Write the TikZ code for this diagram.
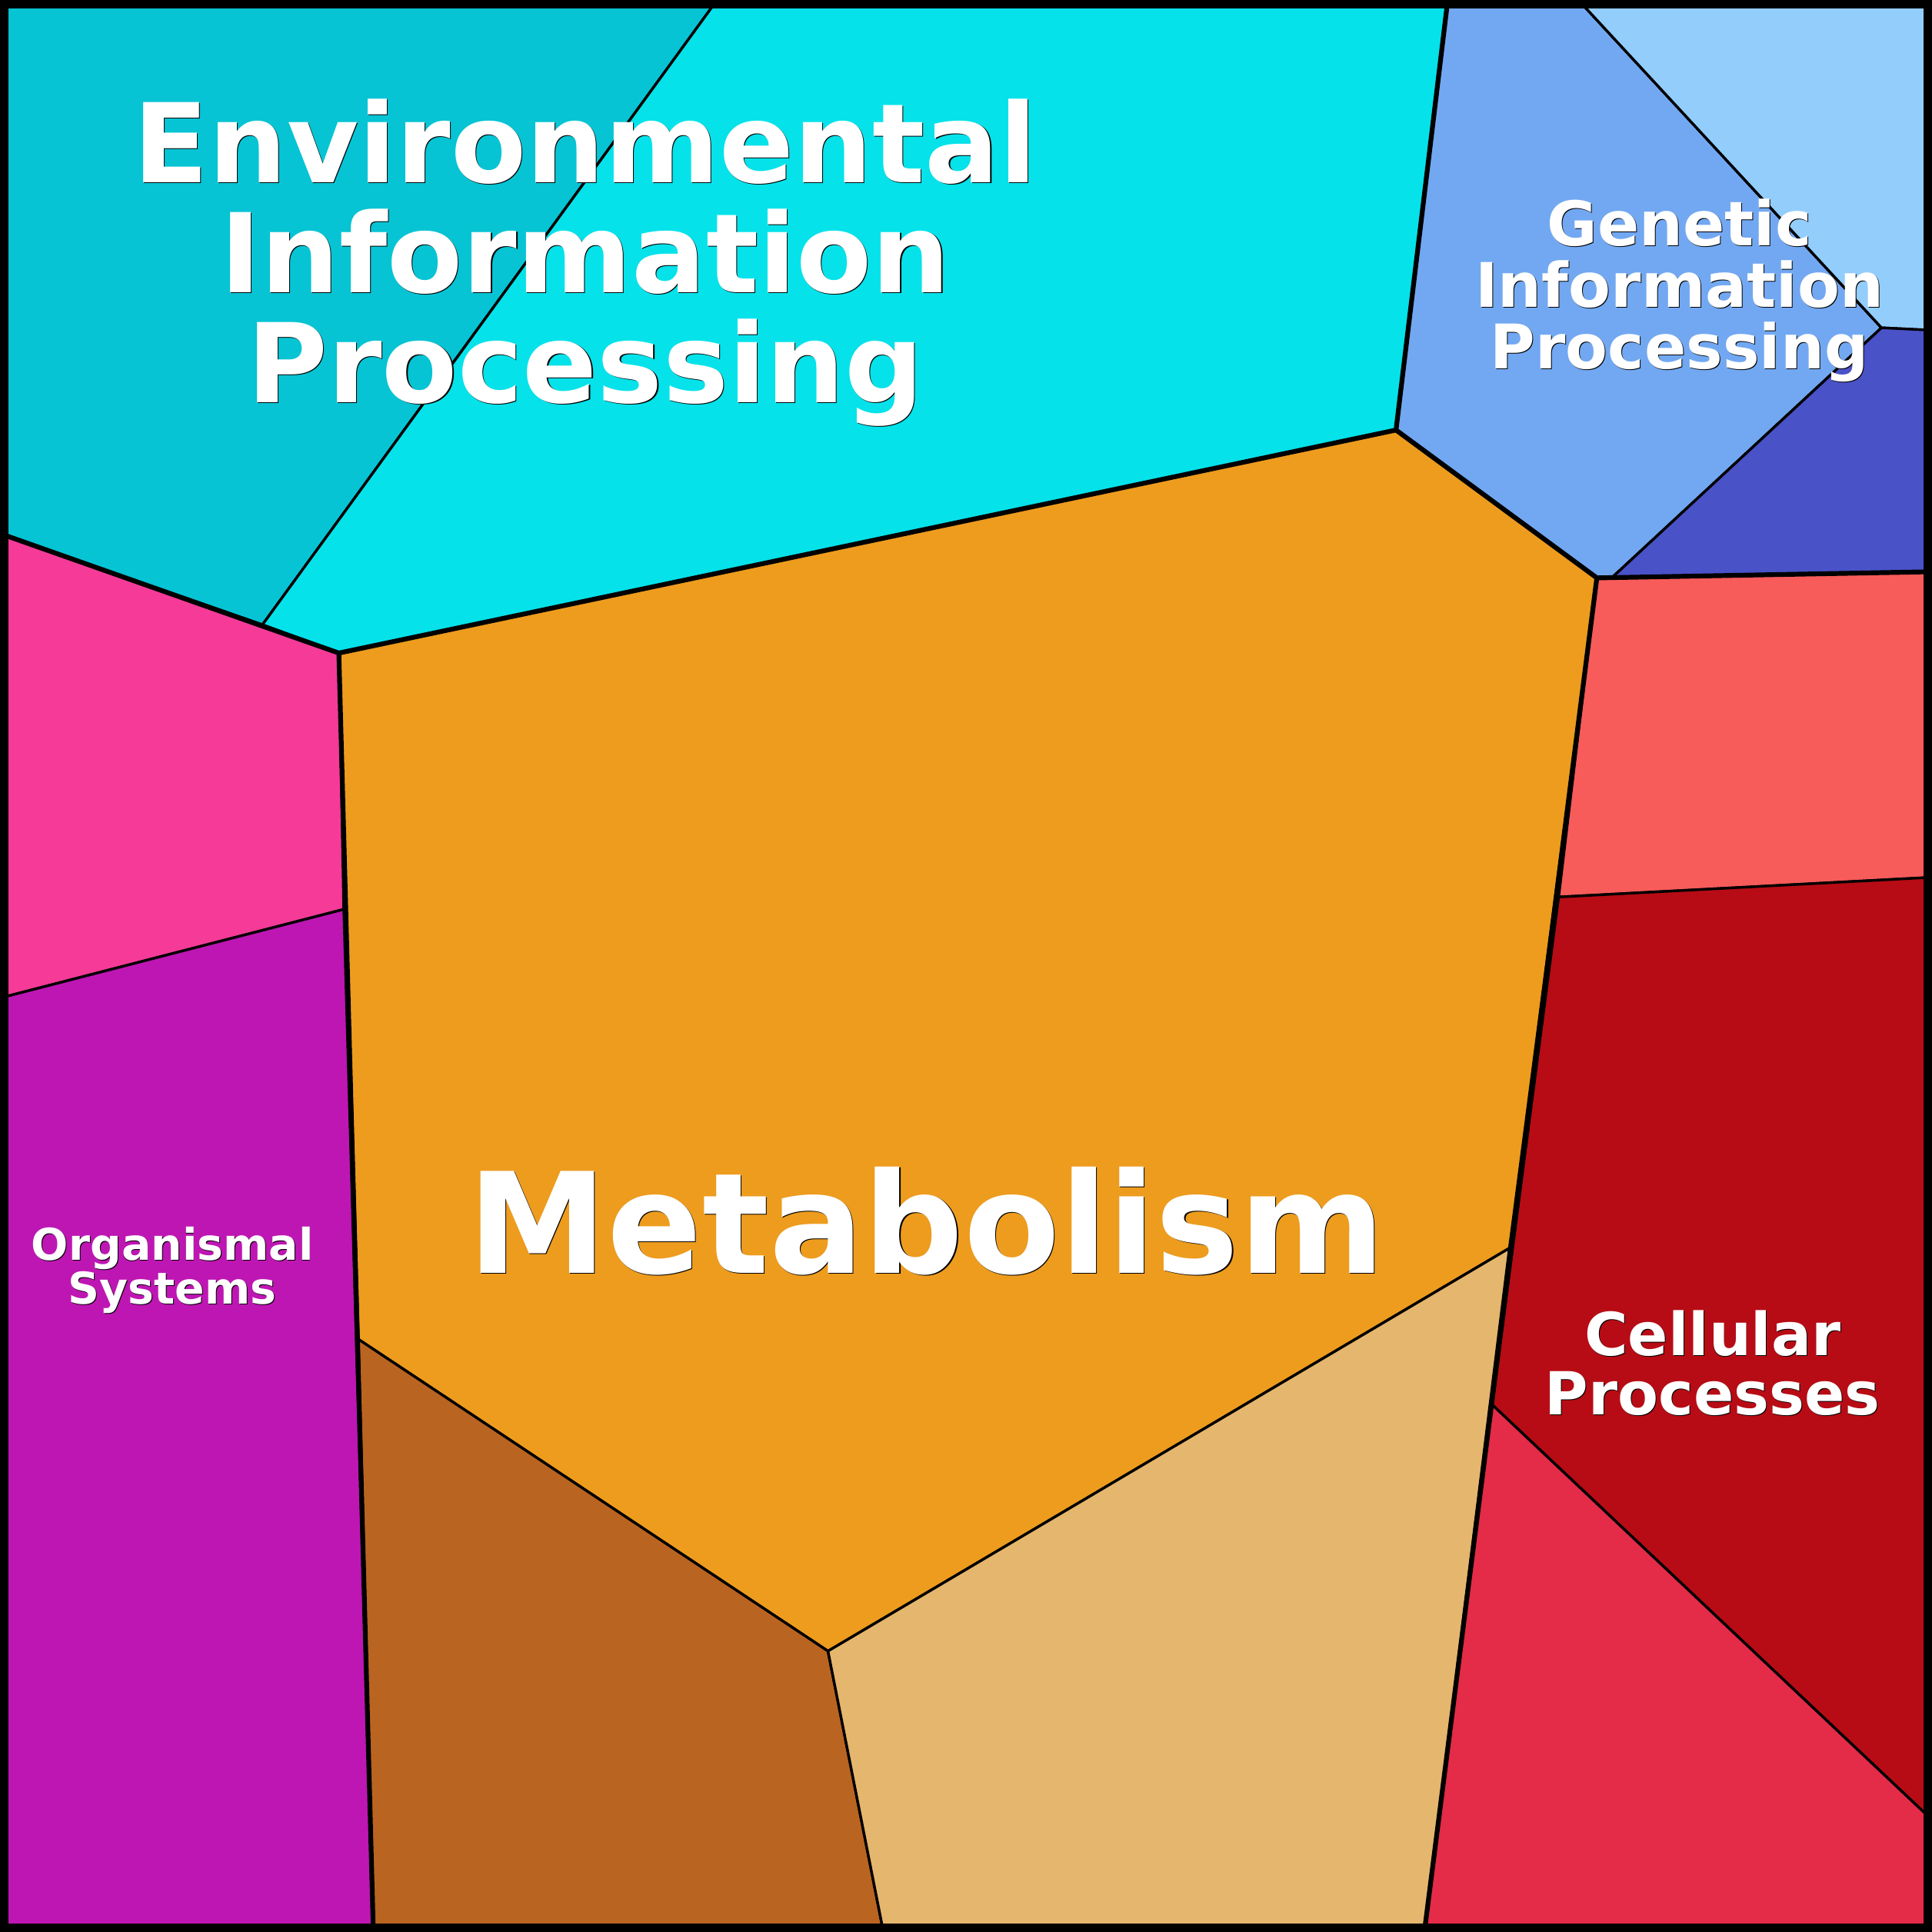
\documentclass[tikz,border=0pt]{standalone}
\usepackage{fontspec}
\setmainfont{DejaVu Sans}
\definecolor{envdark}{HTML}{06C4D4}
\definecolor{envlight}{HTML}{05E2EA}
\definecolor{genblue}{HTML}{72A8F2}
\definecolor{genpale}{HTML}{93CDFC}
\definecolor{genindigo}{HTML}{4A52C8}
\definecolor{cellsalmon}{HTML}{F75B5A}
\definecolor{cellred}{HTML}{B70C15}
\definecolor{cellcrimson}{HTML}{E42B48}
\definecolor{metorange}{HTML}{ED9C1E}
\definecolor{metbrown}{HTML}{BA6421}
\definecolor{mettan}{HTML}{E5B66E}
\definecolor{orgpink}{HTML}{F53A98}
\definecolor{orgpurple}{HTML}{BE16B3}
\tikzset{
    cell/.style={draw=black, line width=0.6pt, line join=round},
    split/.style={draw=black, line width=1.1pt, line join=round},
    frame/.style={draw=black, line width=2pt},
    catname/.style={text=white, align=center, inner sep=0pt, font=\fontsize{#1}{#1}\selectfont\bfseries},
    catshadow/.style={text=black, align=center, inner sep=0pt, font=\fontsize{#1}{#1}\selectfont\bfseries}
}

\begin{document}
\begin{tikzpicture}[x=0.01cm, y=-0.01cm]
    \useasboundingbox (0,0) rectangle (1568,1568);

    % Environmental Information Processing
    \fill[envdark, cell] (0,0) -- (582,0) -- (213,507) -- (0,433) -- cycle;
    \fill[envlight, cell] (582,0) -- (1175,0) -- (1133,349) -- (275,530) -- (213,507) -- cycle;

    % Genetic Information Processing
    \fill[genblue, cell] (1175,0) -- (1281,0) -- (1527,266) -- (1308,469) -- (1296,469) -- (1133,349) -- cycle;
    \fill[genpale, cell] (1281,0) -- (1568,0) -- (1568,268) -- (1527,266) -- cycle;
    \fill[genindigo, cell] (1527,266) -- (1568,268) -- (1568,464) -- (1308,469) -- cycle;

    % Cellular Processes
    \fill[cellsalmon, cell] (1296,469) -- (1568,464) -- (1568,712) -- (1265,728) -- cycle;
    \fill[cellred, cell] (1265,728) -- (1568,712) -- (1568,1477) -- (1211,1140) -- cycle;
    \fill[cellcrimson, cell] (1211,1140) -- (1568,1477) -- (1568,1568) -- (1156,1568) -- cycle;

    % Metabolism
    \fill[metorange, cell] (275,530) -- (1133,349) -- (1296,469) -- (1225,1013) -- (672,1340) -- (291,1087) -- cycle;
    \fill[metbrown, cell] (291,1087) -- (672,1340) -- (717,1568) -- (303,1568) -- cycle;
    \fill[mettan, cell] (672,1340) -- (1225,1013) -- (1156,1568) -- (717,1568) -- cycle;

    % Organismal Systems
    \fill[orgpink, cell] (0,433) -- (213,507) -- (275,530) -- (279,738) -- (0,810) -- cycle;
    \fill[orgpurple, cell] (0,810) -- (279,738) -- (303,1568) -- (0,1568) -- cycle;

    % top level borders
    \draw[split] (303,1568) -- (275,530) -- (1133,349) -- (1296,469) -- (1156,1568);
    \draw[split] (0,433) -- (275,530);
    \draw[split] (1175,0) -- (1133,349);
    \draw[split] (1296,469) -- (1568,464);
    \draw[frame] (3.5,3.5) rectangle (1564.5,1564.5);

    % names
    \node[catshadow=25.4] (envs) at (475.8,213.8) {Environmental\\Information\\Processing};
    \node[catname=25.4] (env) at (475,213) {Environmental\\Information\\Processing};
    \node[catshadow=32.3] (mets) at (752.8,991.8) {Metabolism};
    \node[catname=32.3] (met) at (752,991) {Metabolism};
    \node[catshadow=14.2] (gens) at (1363.6,236.6) {Genetic\\Information\\Processing};
    \node[catname=14.2] (gen) at (1363,236) {Genetic\\Information\\Processing};
    \node[catshadow=13.7] (cells) at (1390.6,1106.6) {Cellular\\Processes};
    \node[catname=13.7] (cell) at (1390,1106) {Cellular\\Processes};
    \node[catshadow=10.1] (orgs) at (140.5,1031.5) {Organismal\\Systems};
    \node[catname=10.1] (org) at (140,1031) {Organismal\\Systems};
\end{tikzpicture}
\end{document}
